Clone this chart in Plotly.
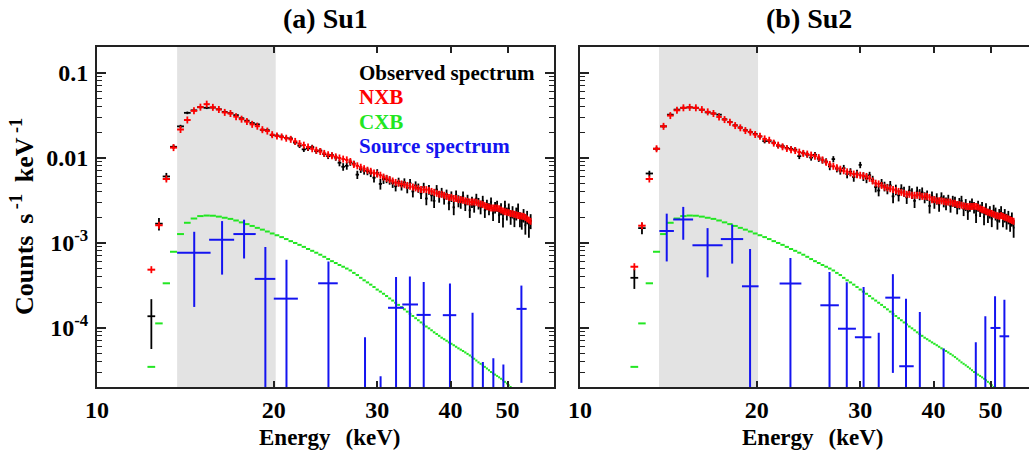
import math
import plotly.graph_objects as go

# ---------------- data ----------------
# PIN channel centres, keV
ENERGY = [
    12.375, 12.75, 13.125, 13.5, 13.875, 14.25, 14.625, 15.0, 15.375, 15.75,
    16.125, 16.5, 16.875, 17.25, 17.625, 18.0, 18.375, 18.75, 19.125, 19.5,
    19.875, 20.25, 20.625, 21.0, 21.375, 21.75, 22.125, 22.5, 22.875, 23.25,
    23.625, 24.0, 24.375, 24.75, 25.125, 25.5, 25.875, 26.25, 26.625, 27.0,
    27.375, 27.75, 28.125, 28.5, 28.875, 29.25, 29.625, 30.0, 30.375, 30.75,
    31.125, 31.5, 31.875, 32.25, 32.625, 33.0, 33.375, 33.75, 34.125, 34.5,
    34.875, 35.25, 35.625, 36.0, 36.375, 36.75, 37.125, 37.5, 37.875, 38.25,
    38.625, 39.0, 39.375, 39.75, 40.125, 40.5, 40.875, 41.25, 41.625, 42.0,
    42.375, 42.75, 43.125, 43.5, 43.875, 44.25, 44.625, 45.0, 45.375, 45.75,
    46.125, 46.5, 46.875, 47.25, 47.625, 48.0, 48.375, 48.75, 49.125, 49.5,
    49.875, 50.25, 50.625, 51.0, 51.375, 51.75, 52.125, 52.5, 52.875, 53.25,
    53.625, 54.0, 54.375, 54.75]
CHANNEL_HALF_WIDTH = 0.1875

# ---- (a) Su1 ----
OBS_A = [
    1.36e-4, 1.67e-3, 6.0e-3, 0.0134, 0.0233, 0.0336, 0.0360, 0.0392, 0.0385, 0.0388,
    0.0370, 0.0345, 0.0333, 0.0316, 0.0290, 0.0272, 0.0255, 0.0246, 0.0212, 0.0210,
    0.0184, 0.0182, 0.0177, 0.0170, 0.0168, 0.0150, 0.0138, 0.0125, 0.0128, 0.0133,
    0.0119, 0.0121, 0.0110, 0.0104, 0.0107, 0.0100, 0.0087, 0.0078, 0.0080, 0.0088,
    0.0085, 0.0063, 0.0073, 0.0070, 0.0069, 0.0066, 0.0058, 0.0066, 0.0049, 0.0056,
    0.0056, 0.0054, 0.0050, 0.0046, 0.0052, 0.0047, 0.0051, 0.0044, 0.0050, 0.0040,
    0.0047, 0.0044, 0.0038, 0.0045, 0.0033, 0.0042, 0.0036, 0.0031, 0.0042, 0.0035,
    0.0039, 0.0033, 0.0037, 0.0029, 0.0035, 0.0026, 0.0036, 0.0031, 0.0030, 0.0035,
    0.0028, 0.0032, 0.0024, 0.0030, 0.0027, 0.0033, 0.0029, 0.0026, 0.0031, 0.0024,
    0.0028, 0.0025, 0.0030, 0.0022, 0.0026, 0.0027, 0.0021, 0.0025, 0.0019, 0.0027,
    0.0022, 0.0025, 0.0020, 0.0023, 0.0019, 0.0022, 0.0025, 0.0019, 0.0018, 0.0021,
    0.0016, 0.0020, 0.0015, 0.0018]
OBS_ERR_A = [
    8e-5, 2.8e-4, 6e-4, 8e-4, 1.0e-3, 1.2e-3, 1.3e-3, 1.3e-3, 1.3e-3, 1.3e-3,
    1.2e-3, 1.2e-3, 1.2e-3, 1.1e-3, 1.1e-3, 1.0e-3, 1.0e-3, 1.0e-3, 9e-4, 9e-4,
    9e-4, 9e-4, 9e-4, 9e-4, 9e-4, 9e-4, 8.5e-4, 8.5e-4, 8.5e-4, 8.5e-4,
    8e-4, 8e-4, 8e-4, 8e-4, 8e-4, 8e-4, 8e-4, 8e-4, 8e-4, 8e-4,
    7e-4, 7e-4, 7e-4, 7e-4, 7e-4, 7e-4, 7e-4, 7e-4, 7e-4, 7e-4,
    6e-4, 6e-4, 6e-4, 6e-4, 6e-4, 6e-4, 6e-4, 6e-4, 6e-4, 6e-4,
    5.5e-4, 5.5e-4, 5.5e-4, 5.5e-4, 5.5e-4, 5.5e-4, 5.5e-4, 5.5e-4, 5.5e-4, 5.5e-4,
    5e-4, 5e-4, 5e-4, 5e-4, 5e-4, 5e-4, 5e-4, 5e-4, 5e-4, 5e-4,
    4.5e-4, 4.5e-4, 4.5e-4, 4.5e-4, 4.5e-4, 4.5e-4, 4.5e-4, 4.5e-4, 4.5e-4, 4.5e-4,
    4e-4, 4e-4, 4e-4, 4e-4, 4e-4, 4e-4, 4e-4, 4e-4, 4e-4, 4e-4,
    3.8e-4, 3.8e-4, 3.8e-4, 3.8e-4, 3.8e-4, 3.8e-4, 3.8e-4, 3.8e-4, 3.8e-4, 3.8e-4,
    3.6e-4, 3.6e-4, 3.6e-4, 3.6e-4]
NXB_A = [
    4.8e-4, 1.6e-3, 5.6e-3, 0.0131, 0.0214, 0.0277, 0.0355, 0.0392, 0.0425, 0.0390,
    0.0368, 0.0340, 0.0330, 0.0303, 0.0283, 0.0265, 0.0246, 0.0234, 0.0213, 0.0205,
    0.0186, 0.0179, 0.0175, 0.0169, 0.0164, 0.0155, 0.0146, 0.0140, 0.0133, 0.0127,
    0.0122, 0.0118, 0.0112, 0.0108, 0.0105, 0.0102, 0.0099, 0.0096, 0.0094, 0.0090,
    0.0083, 0.0080, 0.0077, 0.0074, 0.0071, 0.0069, 0.0066, 0.0064, 0.0062, 0.0059,
    0.0057, 0.0055, 0.0053, 0.0051, 0.0050, 0.0049, 0.0048, 0.0047, 0.0046, 0.0045,
    0.0044, 0.0043, 0.0042, 0.0042, 0.0042, 0.0041, 0.0040, 0.0039, 0.0038, 0.0037,
    0.0037, 0.0036, 0.0035, 0.0034, 0.0034, 0.0033, 0.0033, 0.0032, 0.0032, 0.00315,
    0.0031, 0.00305, 0.0030, 0.0030, 0.0030, 0.00298, 0.0029, 0.00285, 0.0028, 0.00272,
    0.00265, 0.0026, 0.00256, 0.00255, 0.00256, 0.00255, 0.0025, 0.00242, 0.00235, 0.0023,
    0.00228, 0.00225, 0.0022, 0.00218, 0.00215, 0.00212, 0.00208, 0.00205, 0.00205, 0.00203,
    0.00198, 0.0019, 0.00184, 0.00178]

# ---- (b) Su2 ----
OBS_B = [
    3.85e-4, 1.48e-3, 6.5e-3, 0.0127, 0.0233, 0.0320, 0.0367, 0.0385, 0.0390, 0.0385,
    0.0365, 0.0340, 0.0330, 0.0320, 0.0282, 0.0262, 0.0240, 0.0226, 0.0210, 0.0200,
    0.0190, 0.0177, 0.0156, 0.0157, 0.0150, 0.0138, 0.0136, 0.0130, 0.0127, 0.0124,
    0.0104, 0.0113, 0.0108, 0.0100, 0.0108, 0.0097, 0.0093, 0.0090, 0.0079, 0.0096,
    0.0074, 0.0070, 0.0075, 0.0064, 0.0068, 0.0059, 0.0065, 0.0082, 0.0060, 0.0057,
    0.0062, 0.0055, 0.0045, 0.0041, 0.0050, 0.0046, 0.0043, 0.0047, 0.0035, 0.0042,
    0.0036, 0.0043, 0.0040, 0.0034, 0.0041, 0.0038, 0.0031, 0.0040, 0.0037, 0.0039,
    0.0034, 0.0036, 0.0027, 0.0035, 0.0030, 0.0033, 0.0028, 0.0034, 0.0031, 0.0029,
    0.0032, 0.0027, 0.0031, 0.0030, 0.0026, 0.0029, 0.0031, 0.0025, 0.0028, 0.0023,
    0.0027, 0.0029, 0.0026, 0.0021, 0.0027, 0.0024, 0.0026, 0.0020, 0.0025, 0.0021,
    0.0023, 0.0019, 0.0024, 0.0022, 0.0018, 0.0021, 0.0023, 0.0019, 0.0021, 0.0018,
    0.0020, 0.0017, 0.0019, 0.0015]
OBS_ERR_B = [
    1.0e-4, 2.3e-4, 5e-4, 7e-4, 1.0e-3, 1.2e-3, 1.3e-3, 1.3e-3, 1.3e-3, 1.3e-3,
    1.2e-3, 1.2e-3, 1.2e-3, 1.1e-3, 1.1e-3, 1.0e-3, 1.0e-3, 1.0e-3, 9e-4, 9e-4,
    9e-4, 9e-4, 9e-4, 9e-4, 9e-4, 9e-4, 8.5e-4, 8.5e-4, 8.5e-4, 8.5e-4,
    8e-4, 8e-4, 8e-4, 8e-4, 8e-4, 8e-4, 8e-4, 8e-4, 8e-4, 8e-4,
    7e-4, 7e-4, 7e-4, 7e-4, 7e-4, 7e-4, 7e-4, 7e-4, 7e-4, 7e-4,
    6e-4, 6e-4, 6e-4, 6e-4, 6e-4, 6e-4, 6e-4, 6e-4, 6e-4, 6e-4,
    5.5e-4, 5.5e-4, 5.5e-4, 5.5e-4, 5.5e-4, 5.5e-4, 5.5e-4, 5.5e-4, 5.5e-4, 5.5e-4,
    5e-4, 5e-4, 5e-4, 5e-4, 5e-4, 5e-4, 5e-4, 5e-4, 5e-4, 5e-4,
    4.5e-4, 4.5e-4, 4.5e-4, 4.5e-4, 4.5e-4, 4.5e-4, 4.5e-4, 4.5e-4, 4.5e-4, 4.5e-4,
    4e-4, 4e-4, 4e-4, 4e-4, 4e-4, 4e-4, 4e-4, 4e-4, 4e-4, 4e-4,
    3.8e-4, 3.8e-4, 3.8e-4, 3.8e-4, 3.8e-4, 3.8e-4, 3.8e-4, 3.8e-4, 3.8e-4, 3.8e-4,
    3.6e-4, 3.6e-4, 3.6e-4, 3.6e-4]
NXB_B = [
    5.2e-4, 1.58e-3, 5.6e-3, 0.0127, 0.0233, 0.0312, 0.0360, 0.0385, 0.0390, 0.0385,
    0.0367, 0.0345, 0.0330, 0.0301, 0.0280, 0.0261, 0.0238, 0.0224, 0.0208, 0.0199,
    0.0187, 0.0178, 0.0166, 0.0160, 0.0148, 0.0140, 0.0134, 0.0128, 0.0124, 0.0121,
    0.0116, 0.0112, 0.0110, 0.0107, 0.0104, 0.0100, 0.0094, 0.0088, 0.0083, 0.0079,
    0.0076, 0.0073, 0.0070, 0.0068, 0.0066, 0.0064, 0.0063, 0.0062, 0.0061, 0.0060,
    0.0057, 0.0053, 0.0050, 0.0049, 0.0047, 0.0045, 0.0044, 0.0043, 0.0042, 0.0041,
    0.0040, 0.0039, 0.0038, 0.0037, 0.0037, 0.0036, 0.0036, 0.0036, 0.0036, 0.0035,
    0.0035, 0.0035, 0.0034, 0.0032, 0.0032, 0.0031, 0.0031, 0.0031, 0.00305, 0.0030,
    0.0030, 0.0030, 0.0029, 0.0029, 0.0028, 0.0028, 0.00275, 0.0027, 0.00267, 0.00265,
    0.00265, 0.00266, 0.00268, 0.00265, 0.0026, 0.0025, 0.00245, 0.0024, 0.00233, 0.00228,
    0.00224, 0.0022, 0.00215, 0.0021, 0.00207, 0.00204, 0.00208, 0.00203, 0.00198, 0.00195,
    0.0019, 0.00186, 0.00182, 0.00178]

# CXB model (same in both panels)
CXB = [
    3.45e-5, 1.12e-4, 3.32e-4, 7.8e-4, 1.26e-3, 1.71e-3, 1.92e-3, 2.05e-3, 2.08e-3, 2.07e-3,
    2.02e-3, 1.96e-3, 1.90e-3, 1.82e-3, 1.73e-3, 1.65e-3, 1.57e-3, 1.49e-3, 1.42e-3, 1.35e-3,
    1.28e-3, 1.22e-3, 1.16e-3, 1.10e-3, 1.04e-3, 9.9e-4, 9.4e-4, 8.9e-4, 8.4e-4, 8.0e-4,
    7.6e-4, 7.2e-4, 6.8e-4, 6.4e-4, 6.05e-4, 5.75e-4, 5.45e-4, 5.2e-4, 4.95e-4, 4.7e-4,
    4.4e-4, 4.15e-4, 3.85e-4, 3.6e-4, 3.4e-4, 3.2e-4, 3.0e-4, 2.8e-4, 2.65e-4, 2.5e-4,
    2.35e-4, 2.2e-4, 2.08e-4, 1.96e-4, 1.85e-4, 1.74e-4, 1.64e-4, 1.54e-4, 1.45e-4, 1.37e-4,
    1.29e-4, 1.22e-4, 1.15e-4, 1.09e-4, 1.03e-4, 9.8e-5, 9.3e-5, 8.8e-5, 8.4e-5, 8.0e-5,
    7.6e-5, 7.3e-5, 7.0e-5, 6.7e-5, 6.45e-5, 6.2e-5, 5.95e-5, 5.7e-5, 5.5e-5, 5.3e-5,
    5.1e-5, 4.9e-5, 4.7e-5, 4.5e-5, 4.3e-5, 4.1e-5, 3.9e-5, 3.75e-5, 3.6e-5, 3.45e-5,
    3.3e-5, 3.15e-5, 3.0e-5, 2.9e-5, 2.8e-5, 2.7e-5, 2.6e-5, 2.5e-5, 2.4e-5, 2.3e-5,
    2.2e-5, 2.1e-5, 2.0e-5, 1.9e-5, 1.85e-5, 1.8e-5, 1.7e-5, 1.65e-5, 1.6e-5, 1.5e-5,
    1.45e-5, 1.4e-5, 1.35e-5, 1.3e-5]

# Source spectrum (rebinned): centre, bin edges, value (None = below zero), error top / bottom (None = below axis)
SRC_A_E = [14.64, 16.33, 17.8, 19.35, 21.02, 24.78, 28.6, 30.4, 32.3, 34.1, 36.0, 39.9, 43.6, 45.4, 47.3, 49.2, 52.8]
SRC_A_LO = [13.69, 15.52, 17.07, 18.56, 20.0, 23.8, 27.9, 29.6, 31.3, 33.1, 35.0, 38.8, 42.6, 44.5, 46.3, 48.2, 51.8]
SRC_A_HI = [15.61, 17.12, 18.63, 20.12, 21.98, 25.7, 29.3, 31.2, 33.3, 35.2, 37.0, 40.9, 44.6, 46.3, 48.3, 50.2, 53.9]
SRC_A_Y = [7.57e-4, 1.08e-3, 1.26e-3, 3.74e-4, 2.19e-4, 3.32e-4, None, None, 1.71e-4, 1.87e-4, 1.41e-4, 1.40e-4,
           None, None, None, None, 1.66e-4]
SRC_A_TOP = [1.34e-3, 1.79e-3, 1.86e-3, 8.9e-4, 6.3e-4, 6.0e-4, 7.7e-5, 2.67e-5, 3.94e-4, 4.0e-4, 3.44e-4, 3.3e-4,
             1.49e-4, 3.94e-5, 4.36e-5, 3.67e-5, 3.12e-4]
SRC_A_BOT = [1.75e-4, 4.2e-4, 6.5e-4, None, None, None, None, None, None, None, None, None,
             None, None, None, None, 2.24e-5]

SRC_B_E = [14.05, 14.99, 16.49, 18.16, 19.48, 22.82, 26.6, 28.46, 30.4, 32.26, 34.1, 35.9, 37.9, 41.6, 47.2, 49.0, 50.9, 52.8]
SRC_B_LO = [13.65, 14.41, 15.54, 17.37, 18.87, 21.87, 25.66, 27.5, 29.38, 31.4, 33.1, 34.96, 37.0, 40.6, 46.3, 48.1, 50.0, 51.8]
SRC_B_HI = [14.45, 15.58, 17.49, 18.96, 20.14, 23.82, 27.59, 29.5, 31.34, 33.1, 35.1, 37.0, 38.9, 42.6, 48.1, 49.9, 52.0, 53.8]
SRC_B_Y = [1.37e-3, 1.87e-3, 9.3e-4, 1.1e-3, 3.06e-4, 3.3e-4, 1.83e-4, 9.7e-5, 7.7e-5, None, 2.25e-4, 3.51e-5,
           None, None, None, None, 9.9e-5, 7.9e-5]
SRC_B_TOP = [2.19e-3, 2.63e-3, 1.48e-3, 1.63e-3, 8.43e-4, 6.6e-4, 4.5e-4, 3.41e-4, 3.0e-4, 8.7e-5, 4.25e-4, 2.19e-4,
             1.53e-4, 5.66e-5, 6.7e-5, 1.36e-4, 2.33e-4, 2.13e-4]
SRC_B_BOT = [6.0e-4, 1.08e-3, 3.9e-4, 5.66e-4, None, None, None, None, None, None, 2.93e-5, None,
             None, None, None, None, None, None]

# shaded energy band (keV)
BAND_A = [13.69, 20.15]
BAND_B = [13.63, 20.10]

PANEL_TITLES = ["(a) Su1", "(b) Su2"]
LEGEND_TEXT = ["Observed spectrum", "NXB", "CXB", "Source spectrum"]
X_TICKS = [10, 20, 30, 40, 50]
X_TICKTEXT = ["10", "20", "30", "40", "50"]
Y_TICKS = [1e-4, 1e-3, 1e-2, 1e-1]
Y_TICKTEXT = ["10<sup>-4</sup>", "10<sup>-3</sup>", "0.01", "0.1"]
X_RANGE = [10, 60]
Y_RANGE = [2e-5, 0.2]

# ---------------- styling ----------------
FONT = "Liberation Serif"
BLACK = "#000000"
RED = "#ff0000"
GREEN = "#22e622"
BLUE = "#1414f0"
AXCOL = "#222222"
FLOOR = 1e-8

W, H = 1029, 455
ML, MR, MT, MB = 97, 0, 47, 68
PW = W - ML - MR
A_LEFT, A_RIGHT = 97, 554
B_LEFT = 580

fig = go.Figure()


def add_panel(xa, ya, obs, obs_err, nxb, src_e, src_lo, src_hi, src_y, src_top, src_bot):
    common = dict(xaxis=xa, yaxis=ya, showlegend=False, hoverinfo="skip", mode="markers")
    fig.add_trace(go.Scatter(
        x=ENERGY, y=obs, marker=dict(size=2, color=BLACK, opacity=0),
        error_x=dict(type="constant", value=CHANNEL_HALF_WIDTH, width=0, thickness=1.8, color=BLACK),
        error_y=dict(type="data", array=obs_err, width=0, thickness=1.8, color=BLACK),
        **common))
    fig.add_trace(go.Scatter(
        x=ENERGY, y=nxb,
        marker=dict(symbol="line-ns", size=5, color=RED, line=dict(color=RED, width=1.8)),
        error_x=dict(type="constant", value=CHANNEL_HALF_WIDTH, width=0, thickness=2, color=RED),
        **common))
    fig.add_trace(go.Scatter(
        x=ENERGY, y=CXB, marker=dict(size=2, color=GREEN, opacity=0),
        error_x=dict(type="constant", value=CHANNEL_HALF_WIDTH, width=0, thickness=2, color=GREEN),
        **common))
    ys, plus, minus, xp, xm = [], [], [], [], []
    for e, lo, hi, y, top, bot in zip(src_e, src_lo, src_hi, src_y, src_top, src_bot):
        yy = y if y is not None else FLOOR
        ys.append(yy)
        plus.append(top - yy)
        minus.append(yy - (bot if bot is not None else FLOOR) if y is not None else 0)
        xp.append(hi - e)
        xm.append(e - lo)
    fig.add_trace(go.Scatter(
        x=src_e, y=ys, marker=dict(size=2, color=BLUE, opacity=0),
        error_x=dict(type="data", symmetric=False, array=xp, arrayminus=xm, width=0, thickness=2, color=BLUE),
        error_y=dict(type="data", symmetric=False, array=plus, arrayminus=minus, width=0, thickness=2, color=BLUE),
        **common))


add_panel("x", "y", OBS_A, OBS_ERR_A, NXB_A, SRC_A_E, SRC_A_LO, SRC_A_HI, SRC_A_Y, SRC_A_TOP, SRC_A_BOT)
add_panel("x2", "y2", OBS_B, OBS_ERR_B, NXB_B, SRC_B_E, SRC_B_LO, SRC_B_HI, SRC_B_Y, SRC_B_TOP, SRC_B_BOT)

# axis geometry
lx0, lx1 = math.log10(X_RANGE[0]), math.log10(X_RANGE[1])
dom_a = [(A_LEFT - ML) / PW, (A_RIGHT - ML) / PW]
dom_b = [(B_LEFT - ML) / PW, 1.0]
px_per_dec = (A_RIGHT - A_LEFT) / (lx1 - lx0)
rng_b = [lx0, lx0 + (W - MR - B_LEFT) / px_per_dec]

minor_y = [m * 10.0 ** d for d in range(-5, 0) for m in range(2, 10)]
tickfont = dict(family=FONT, size=24, color=BLACK, weight="bold")

xcommon = dict(type="log", showline=True, linecolor=AXCOL, linewidth=2, mirror="allticks",
               ticks="inside", ticklen=6, tickwidth=1.5, tickcolor=AXCOL,
               tickvals=X_TICKS, ticktext=X_TICKTEXT, tickfont=tickfont,
               showgrid=False, zeroline=False, ticklabelstandoff=0)
ycommon = dict(type="log", range=[math.log10(Y_RANGE[0]), math.log10(Y_RANGE[1])], showline=True,
               linecolor=AXCOL, linewidth=2, ticks="inside", ticklen=9, tickwidth=1.5, tickcolor=AXCOL,
               tickvals=Y_TICKS, ticktext=Y_TICKTEXT, tickfont=tickfont, showgrid=False, zeroline=False,
               minor=dict(ticks="inside", ticklen=5, tickwidth=1.2, tickcolor=AXCOL, tickvals=minor_y, showgrid=False),
               ticklabelstandoff=2, domain=[0, 1])

fig.update_layout(
    width=W, height=H, autosize=False,
    margin=dict(l=ML, r=MR, t=MT, b=MB, pad=0),
    paper_bgcolor="white", plot_bgcolor="white",
    xaxis=dict(domain=dom_a, range=[lx0, lx1], anchor="y", **xcommon),
    xaxis2=dict(domain=dom_b, range=rng_b, anchor="y2", **xcommon),
    yaxis=dict(anchor="x", mirror="allticks", **ycommon),
    yaxis2=dict(anchor="x2", mirror=False, showticklabels=False, **ycommon),
)

# shaded bands
for xr, band in (("x", BAND_A), ("x2", BAND_B)):
    fig.add_shape(type="rect", xref=xr, yref="paper", x0=band[0], x1=band[1], y0=0, y1=1,
                  fillcolor="#e3e3e3", line=dict(width=0), layer="below")

# titles
centers = [((A_LEFT + A_RIGHT) / 2 - ML) / PW, ((B_LEFT + B_LEFT + (A_RIGHT - A_LEFT)) / 2 - ML) / PW]
plot_h = H - MT - MB
for cx, t in zip(centers, PANEL_TITLES):
    fig.add_annotation(text=t, xref="paper", yref="paper", x=cx, y=(H - MB - 18) / plot_h,
                       xanchor="center", yanchor="middle", showarrow=False,
                       font=dict(family=FONT, size=28, color=BLACK, weight="bold"))
    fig.add_annotation(text="Energy\u2009\u2009 (keV)", xref="paper", yref="paper", x=cx + 4 / PW,
                       y=(H - MB - 438) / plot_h,
                       xanchor="center", yanchor="middle", showarrow=False,
                       font=dict(family=FONT, size=23, color=BLACK, weight="bold"))

fig.add_annotation(text="Counts\u2009 s<sup> -1</sup>\u2009 keV<sup> -1</sup>", xref="paper", yref="paper",
                   x=(22 - ML) / PW, y=0.5, textangle=-90, xanchor="center", yanchor="middle", showarrow=False,
                   font=dict(family=FONT, size=26, color=BLACK, weight="bold"))

# legend text
for txt, col, ypix in zip(LEGEND_TEXT, [BLACK, RED, GREEN, BLUE], [73, 97, 122, 146]):
    fig.add_annotation(text=txt, xref="x domain", yref="paper", x=(357 - A_LEFT) / (A_RIGHT - A_LEFT),
                       y=(H - MB - ypix) / plot_h, xanchor="left", yanchor="middle", showarrow=False,
                       font=dict(family=FONT, size=21, color=col, weight="bold"))

fig.write_html("out.html", config={"displayModeBar": False},
               post_script="document.body.style.margin='0';document.body.style.overflow='hidden';")
